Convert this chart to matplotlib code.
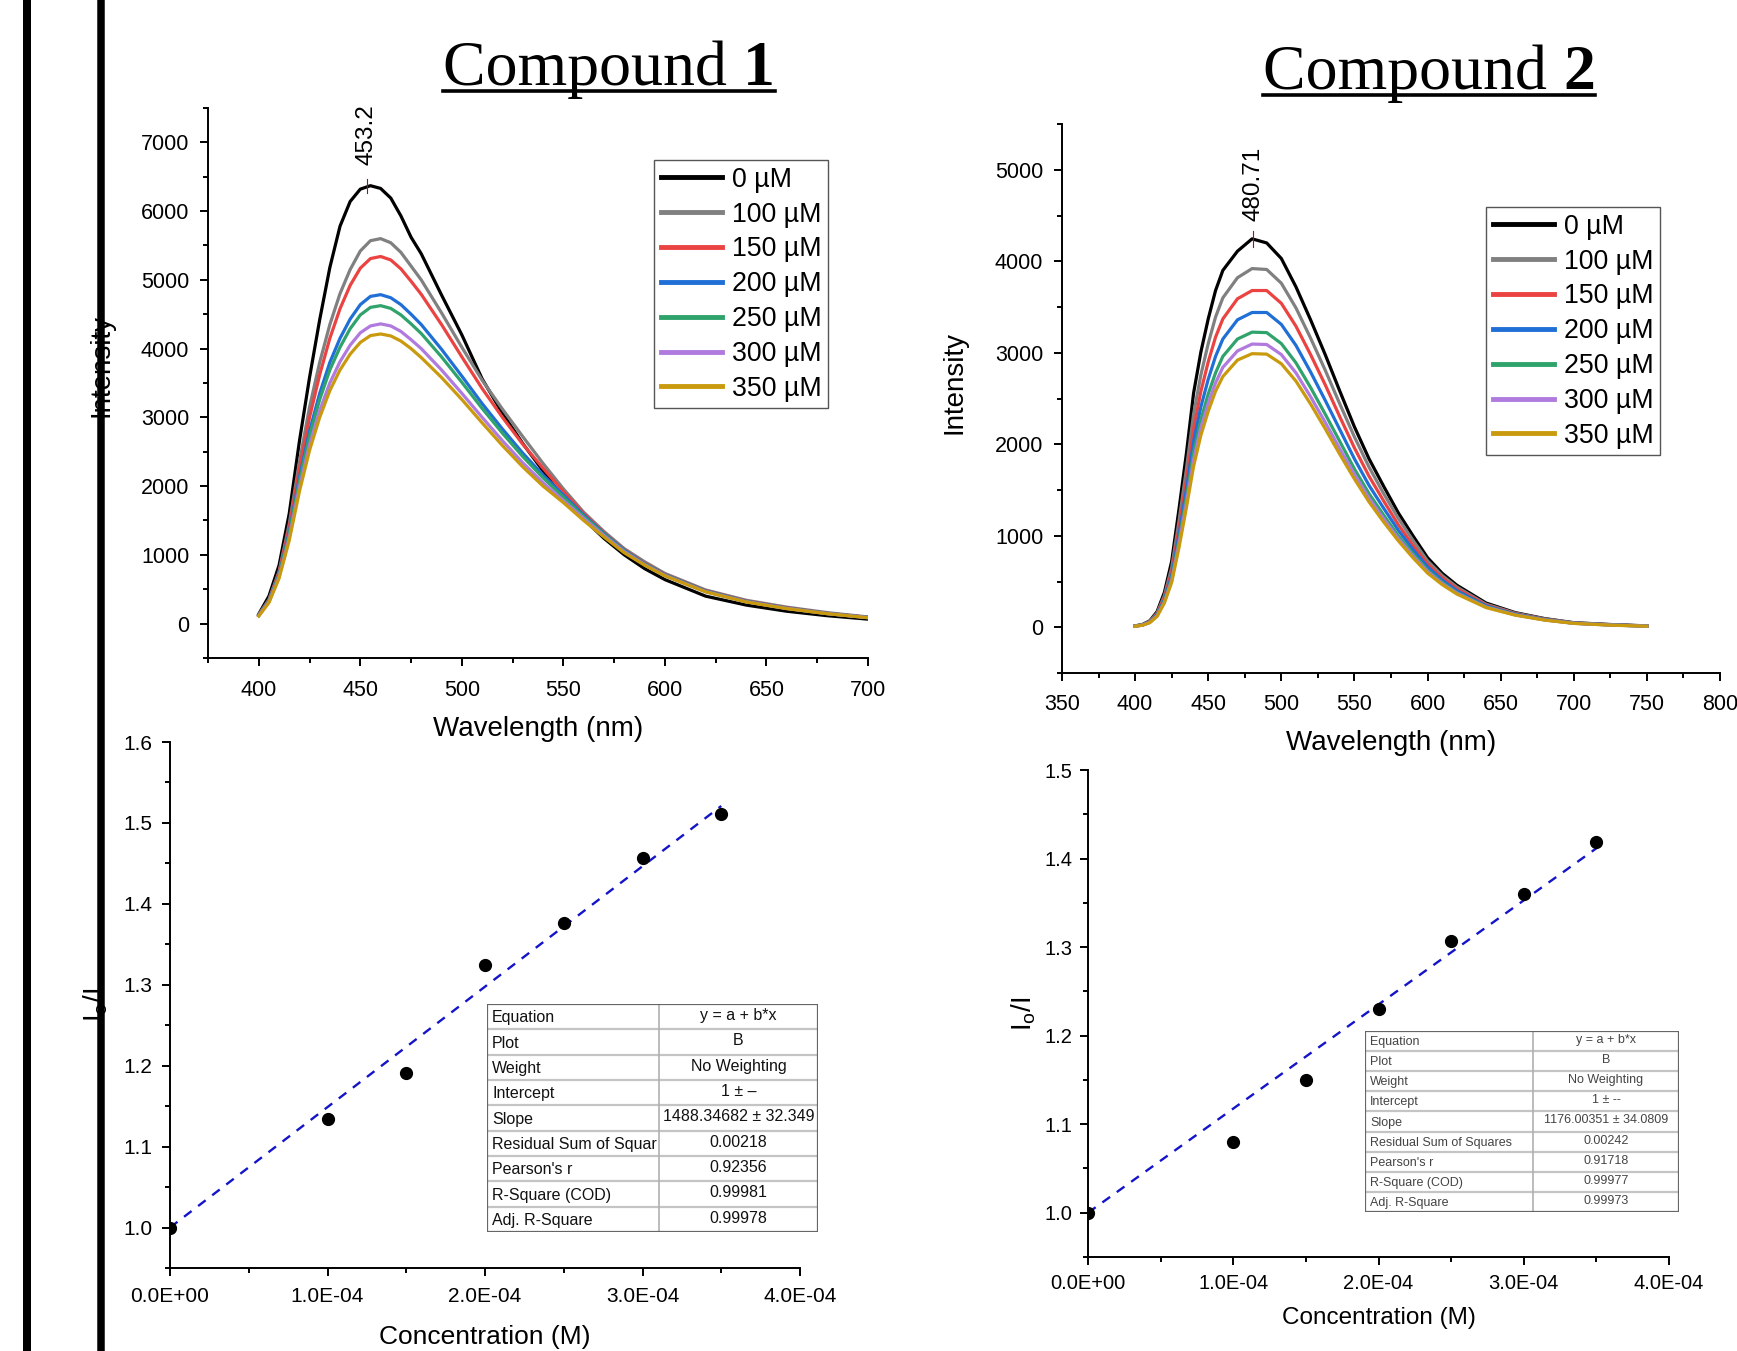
import numpy as np
import matplotlib
matplotlib.use("Agg")
import matplotlib.pyplot as plt
from matplotlib.ticker import MultipleLocator, FuncFormatter
from matplotlib.lines import Line2D
from matplotlib.patches import Rectangle

plt.rcParams['font.family'] = ['Liberation Sans', 'DejaVu Sans']
plt.rcParams['mathtext.fontset'] = 'custom'
plt.rcParams['mathtext.rm'] = 'Liberation Sans'
plt.rcParams['mathtext.it'] = 'Liberation Sans:italic'

# =========================
# DATA
# =========================
labels = ["0 µM", "100 µM", "150 µM", "200 µM", "250 µM", "300 µM", "350 µM"]
colors = ["#000000", "#808080", "#ea4341", "#1f6fd6", "#2fa36b", "#b07ade", "#c99a0d"]

# compound 1 emission spectra
wl1 = [400, 405, 410, 415, 420, 425, 430, 435, 440, 445, 450, 455, 460, 465, 470, 475,
       480, 490, 500, 510, 520, 530, 540, 550, 560, 570, 580, 590, 600, 620, 640, 660, 680, 700]
c1_0 = [140, 400, 850, 1600, 2650, 3580, 4420, 5180, 5780, 6140, 6320, 6370, 6330, 6190, 5930, 5620,
        5380, 4780, 4200, 3560, 3060, 2620, 2220, 1820, 1520, 1240, 1000, 800, 640, 400, 270, 180, 115, 65]
c1_100 = [130, 350, 760, 1450, 2350, 3150, 3800, 4350, 4800, 5150, 5420, 5570, 5600, 5540, 5400, 5200,
          5000, 4520, 4020, 3540, 3120, 2720, 2330, 1960, 1620, 1340, 1090, 900, 730, 490, 340, 240, 160, 97]
c1_150 = [125, 340, 740, 1400, 2250, 3000, 3620, 4150, 4580, 4920, 5170, 5310, 5340, 5290, 5160, 4980,
          4790, 4350, 3880, 3420, 3000, 2610, 2260, 1920, 1600, 1320, 1070, 880, 715, 480, 330, 230, 150, 92]
c1_200 = [120, 330, 710, 1330, 2120, 2800, 3350, 3800, 4150, 4430, 4640, 4760, 4785, 4740, 4640, 4500,
          4350, 3990, 3600, 3200, 2830, 2480, 2160, 1870, 1580, 1310, 1065, 870, 710, 475, 325, 225, 148, 90]
c1_250 = [120, 325, 700, 1300, 2070, 2730, 3260, 3690, 4020, 4290, 4490, 4600, 4625, 4585, 4490, 4360,
          4220, 3880, 3510, 3130, 2770, 2430, 2120, 1840, 1560, 1300, 1055, 865, 705, 470, 322, 222, 146, 88]
c1_300 = [115, 315, 680, 1250, 1980, 2600, 3100, 3500, 3810, 4050, 4230, 4330, 4360, 4330, 4250, 4130,
          4000, 3690, 3350, 3000, 2660, 2340, 2050, 1790, 1530, 1280, 1045, 858, 700, 465, 318, 220, 145, 87]
c1_350 = [110, 305, 660, 1210, 1920, 2520, 3000, 3390, 3690, 3920, 4090, 4190, 4213, 4185, 4110, 4000,
          3870, 3580, 3260, 2920, 2590, 2280, 2000, 1760, 1500, 1260, 1030, 850, 695, 462, 315, 218, 144, 86]

# compound 2 emission spectra
wl2 = [400, 405, 410, 415, 420, 425, 430, 435, 440, 445, 450, 455, 460, 470, 480, 490, 500, 510,
       520, 530, 540, 550, 560, 570, 580, 590, 600, 610, 620, 640, 660, 680, 700, 725, 750]
c2_0 = [15, 30, 70, 170, 380, 720, 1290, 1890, 2560, 3010, 3370, 3680, 3900, 4110, 4245, 4200, 4030, 3720,
        3360, 2980, 2580, 2190, 1840, 1540, 1250, 1000, 760, 590, 460, 265, 160, 95, 50, 30, 15]
c2_100 = [14, 28, 65, 155, 345, 650, 1160, 1720, 2330, 2760, 3100, 3390, 3600, 3820, 3920, 3910, 3760, 3490,
          3160, 2810, 2440, 2080, 1750, 1460, 1190, 950, 725, 565, 440, 252, 154, 91, 48, 28, 14]
c2_150 = [13, 26, 60, 145, 320, 600, 1080, 1600, 2170, 2580, 2900, 3170, 3370, 3590, 3680, 3680, 3540, 3290,
          2980, 2650, 2300, 1960, 1650, 1380, 1120, 895, 690, 540, 420, 243, 148, 88, 46, 27, 13]
c2_200 = [12, 25, 57, 135, 300, 560, 1010, 1500, 2030, 2410, 2710, 2960, 3150, 3360, 3440, 3440, 3310, 3080,
          2790, 2480, 2160, 1840, 1550, 1300, 1060, 850, 660, 515, 400, 234, 143, 85, 45, 26, 13]
c2_250 = [12, 24, 54, 128, 285, 530, 950, 1410, 1910, 2270, 2550, 2780, 2960, 3150, 3225, 3220, 3100, 2890,
          2620, 2330, 2030, 1730, 1460, 1225, 1000, 805, 625, 490, 380, 225, 138, 82, 44, 25, 12]
c2_300 = [11, 23, 52, 123, 275, 510, 910, 1350, 1830, 2180, 2450, 2670, 2840, 3020, 3095, 3090, 2980, 2780,
          2520, 2240, 1950, 1670, 1410, 1185, 970, 780, 608, 478, 372, 220, 135, 80, 43, 24, 12]
c2_350 = [11, 22, 50, 118, 265, 490, 870, 1300, 1760, 2100, 2360, 2580, 2740, 2920, 2990, 2985, 2880, 2690,
          2440, 2170, 1890, 1620, 1370, 1150, 945, 760, 592, 466, 363, 215, 132, 78, 42, 23, 11]

peak1 = 453.2
peak2 = 480.71

# Stern-Volmer data
conc = [0.0, 1.0e-4, 1.5e-4, 2.0e-4, 2.5e-4, 3.0e-4, 3.5e-4]
sv1 = [1.0, 1.134, 1.191, 1.325, 1.376, 1.457, 1.511]
sv2 = [1.0, 1.080, 1.150, 1.230, 1.307, 1.360, 1.419]
slope1 = 1488.34682
slope2 = 1176.00351

tab_rows1 = ["Equation", "Plot", "Weight", "Intercept", "Slope", "Residual Sum of Squar",
             "Pearson's r", "R-Square (COD)", "Adj. R-Square"]
tab_vals1 = ["y = a + b*x", "B", "No Weighting", "1 ± –", "1488.34682 ± 32.349", "0.00218",
             "0.92356", "0.99981", "0.99978"]
tab_rows2 = ["Equation", "Plot", "Weight", "Intercept", "Slope", "Residual Sum of Squares",
             "Pearson's r", "R-Square (COD)", "Adj. R-Square"]
tab_vals2 = ["y = a + b*x", "B", "No Weighting", "1 ± --", "1176.00351 ± 34.0809", "0.00242",
             "0.91718", "0.99977", "0.99973"]

# =========================
# FIGURE
# =========================
W, H = 1737, 1351
fig = plt.figure(figsize=(W / 100, H / 100), dpi=100)


def px_axes(l, t, r, b):
    ax = fig.add_axes([l / W, 1 - b / H, (r - l) / W, (b - t) / H])
    ax.patch.set_alpha(0)
    return ax


def style(ax, fs, xpad, ypad):
    for s in ["top", "right"]:
        ax.spines[s].set_visible(False)
    for s in ["left", "bottom"]:
        ax.spines[s].set_linewidth(1.4)
    ax.tick_params(which="major", direction="out", length=6, width=1.4, labelsize=fs)
    ax.tick_params(which="minor", direction="out", length=3.5, width=1.4)
    ax.tick_params(axis="x", which="major", pad=xpad)
    ax.tick_params(axis="y", which="major", pad=ypad)


def spectra(ax, wl, series, peak, mark_half, txt_off):
    for ys, c, lab in zip(series, colors, labels):
        ax.plot(wl, ys, color=c, lw=2.3, label=lab, solid_joinstyle="round")
    ymax = max(series[0])
    ax.plot([peak, peak], [ymax - mark_half, ymax + mark_half], color="#8b1a1a", lw=0.8)
    ax.annotate(f"{peak}", xy=(peak, ymax), xytext=(0, txt_off), textcoords="offset points",
                rotation=90, ha="center", va="bottom", fontsize=17.5)


def add_legend(ax, x0, y0):
    leg = ax.legend(loc="upper left", bbox_to_anchor=(x0 / W, 1 - y0 / H), bbox_transform=fig.transFigure,
                    fontsize=19.3, frameon=True, fancybox=False, edgecolor="#555555", framealpha=1,
                    borderaxespad=0, borderpad=0.25, labelspacing=0.33, handlelength=2.3,
                    handletextpad=0.35)
    leg.get_frame().set_linewidth(1.0)
    for ln in leg.get_lines():
        ln.set_linewidth(3.5)


# ---- Compound 1 spectra ----
ax1 = px_axes(208, 108, 868, 658)
spectra(ax1, wl1, [c1_0, c1_100, c1_150, c1_200, c1_250, c1_300, c1_350], peak1, 100, 15)
ax1.set_xlim(375, 700)
ax1.set_ylim(-500, 7500)
ax1.xaxis.set_major_locator(MultipleLocator(50))
ax1.xaxis.set_minor_locator(MultipleLocator(25))
ax1.yaxis.set_major_locator(MultipleLocator(1000))
ax1.yaxis.set_minor_locator(MultipleLocator(500))
style(ax1, 15.5, 9.5, 7.5)
ax1.set_xlabel("Wavelength (nm)", fontsize=20)
ax1.set_ylabel("Intensity", fontsize=20)
ax1.xaxis.set_label_coords(0.5, -0.105)
ax1.yaxis.set_label_coords(-0.141, 0.531)
add_legend(ax1, 654, 160)

# ---- Compound 2 spectra ----
ax2 = px_axes(1062, 124, 1720, 673)
spectra(ax2, wl2, [c2_0, c2_100, c2_150, c2_200, c2_250, c2_300, c2_350], peak2, 90, 12.5)
ax2.set_xlim(350, 800)
ax2.set_ylim(-500, 5500)
ax2.xaxis.set_major_locator(MultipleLocator(50))
ax2.xaxis.set_minor_locator(MultipleLocator(25))
ax2.yaxis.set_major_locator(MultipleLocator(1000))
ax2.yaxis.set_minor_locator(MultipleLocator(500))
style(ax2, 15.5, 9, 7.5)
ax2.set_xlabel("Wavelength (nm)", fontsize=20)
ax2.set_ylabel("Intensity", fontsize=20)
ax2.xaxis.set_label_coords(0.5, -0.104)
ax2.yaxis.set_label_coords(-0.144, 0.530)
add_legend(ax2, 1486, 207)


# ---- Stern-Volmer plots ----
def sv_plot(ax, y, slope, ymax, fs, xpad, ypad):
    x_fit = np.array([conc[0], conc[-1]])
    ax.plot(x_fit, 1 + slope * x_fit, color="#1414c8", lw=1.7, dashes=(4, 3.5), zorder=2)
    ax.plot(conc, y, "o", color="black", ms=8.5, zorder=3)
    ax.set_xlim(0, 4e-4)
    ax.set_ylim(0.95, ymax)
    ax.xaxis.set_major_locator(MultipleLocator(1e-4))
    ax.xaxis.set_minor_locator(MultipleLocator(5e-5))
    ax.yaxis.set_major_locator(MultipleLocator(0.1))
    ax.yaxis.set_minor_locator(MultipleLocator(0.05))
    ax.xaxis.set_major_formatter(FuncFormatter(lambda v, p: f"{v:.1E}"))
    ax.yaxis.set_major_formatter(FuncFormatter(lambda v, p: f"{v:.1f}"))
    style(ax, fs, xpad, ypad)


ax3 = px_axes(170, 742, 800, 1268)
sv_plot(ax3, sv1, slope1, 1.6, 15, 8, 6.5)
ax3.set_xlabel("Concentration (M)", fontsize=19)
ax3.set_ylabel(r"I$_\mathregular{o}$/I", fontsize=20)
ax3.xaxis.set_label_coords(0.5, -0.108)
ax3.yaxis.set_label_coords(-0.095, 0.5)

ax4 = px_axes(1088, 770, 1669, 1257)
sv_plot(ax4, sv2, slope2, 1.5, 14.5, 6.5, 5.3)
ax4.set_xlabel("Concentration (M)", fontsize=17.5)
ax4.set_ylabel(r"I$_\mathregular{o}$/I", fontsize=20)
ax4.xaxis.set_label_coords(0.5, -0.103)
ax4.yaxis.set_label_coords(-0.086, 0.5)


# ---- fit result tables ----
def draw_table(l, t, r, b, split, rows, vals, fs, color):
    tax = px_axes(l, t, r, b)
    n = len(rows)
    tax.set_xlim(0, 1)
    tax.set_ylim(n, 0)
    tax.axis("off")
    tax.add_patch(Rectangle((0, 0), 1, n, facecolor="white", edgecolor="none", zorder=0))
    sx = (split - l) / (r - l)
    for i in range(1, n):
        tax.plot([0, 1], [i, i], color="#c4c4c4", lw=1.6, zorder=1)
    tax.plot([sx, sx], [0, n], color="#b0b0b0", lw=1.2, zorder=1)
    tax.add_patch(Rectangle((0, 0), 1, n, fill=False, edgecolor="#666666", lw=1.6, zorder=2))
    padx = 5 / (r - l)
    for i, (a, v) in enumerate(zip(rows, vals)):
        tax.text(padx, i + 0.55, a, fontsize=fs, color=color, ha="left", va="center", clip_on=True)
        tax.text((sx + 1) / 2, i + 0.45, v, fontsize=fs, color=color, ha="center", va="center")


draw_table(487, 1004, 818, 1232, 659, tab_rows1, tab_vals1, 11.5, "#111111")
draw_table(1365, 1031, 1679, 1212, 1533, tab_rows2, tab_vals2, 9, "#444444")


# ---- titles with underline ----
def title(x_left, y_base, num, y_line):
    t1 = fig.text(x_left / W, 1 - y_base / H, "Compound ", fontsize=46,
                  family="Liberation Serif", va="baseline")
    fig.canvas.draw()
    bb = t1.get_window_extent()
    t2 = fig.text(bb.x1 / W, 1 - y_base / H, num, fontsize=46, family="Liberation Serif",
                  weight="bold", va="baseline")
    fig.canvas.draw()
    bb2 = t2.get_window_extent()
    fig.add_artist(Line2D([bb.x0 / W, bb2.x1 / W], [1 - y_line / H] * 2, color="black", lw=2.6))


title(443, 85, "1", 91)
title(1263, 89, "2", 95)

# ---- left border lines ----
for xc, w in [(27, 8), (100.5, 7.5)]:
    fig.add_artist(Line2D([xc / W, xc / W], [0, 1], color="black", lw=w * 0.72, zorder=10))

fig.savefig("out.png", dpi=100)
